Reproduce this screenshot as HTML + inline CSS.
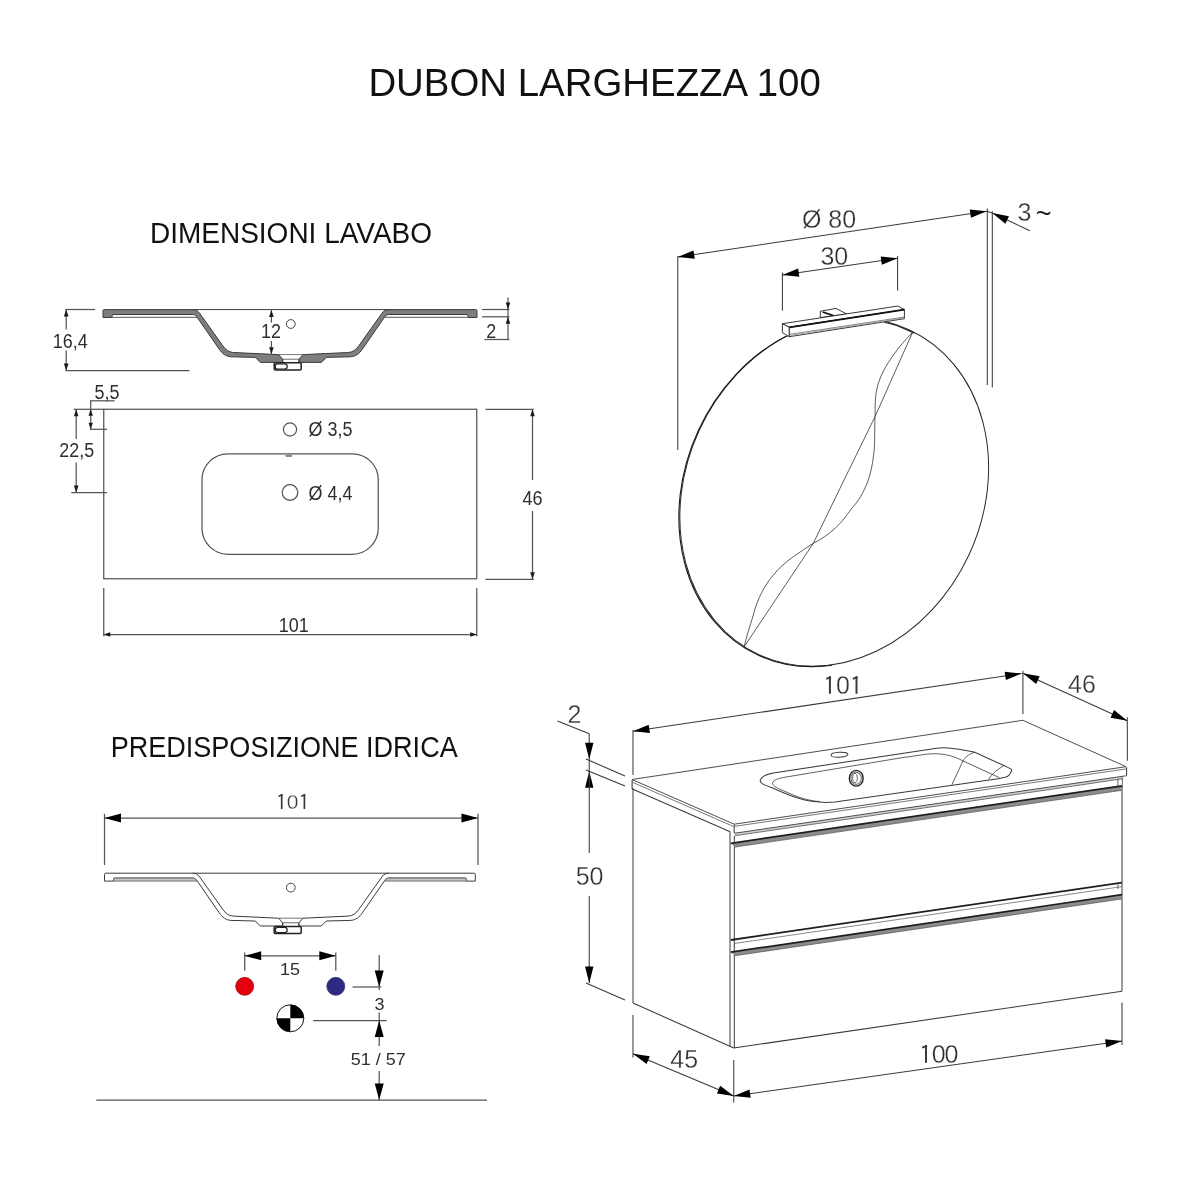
<!DOCTYPE html>
<html><head><meta charset="utf-8"><title>DUBON LARGHEZZA 100</title>
<style>
html,body{margin:0;padding:0;background:#fff;}
body{width:1200px;height:1200px;overflow:hidden;font-family:"Liberation Sans",sans-serif;}
svg{display:block;}
svg text{font-family:"Liberation Sans",sans-serif;}
svg text{filter:grayscale(1);}
</style></head><body>
<svg width="1200" height="1200" viewBox="0 0 1200 1200">
<rect x="0" y="0" width="1200" height="1200" fill="#ffffff"/>
<text x="594.60" y="96.00" font-size="39.5" text-anchor="middle" fill="#111" textLength="452.4" lengthAdjust="spacingAndGlyphs">DUBON LARGHEZZA 100</text>
<text x="291.00" y="243.00" font-size="29.3" text-anchor="middle" fill="#111" textLength="282" lengthAdjust="spacingAndGlyphs">DIMENSIONI LAVABO</text>
<text x="284.20" y="757.00" font-size="29.3" text-anchor="middle" fill="#111" textLength="347" lengthAdjust="spacingAndGlyphs">PREDISPOSIZIONE IDRICA</text>
<path d="M 104.20,309.60 L 192.80,309.60 C 195.80,309.60 197.80,310.60 199.60,313.20 L 222.80,345.80 C 225.80,350.00 228.80,352.20 233.30,352.50 L 271.80,354.30 L 278.80,354.70 L 282.60,359.20 L 282.60,362.40 L 260.30,362.40 L 255.30,357.40 L 230.80,356.80 C 225.80,356.40 222.30,353.60 219.30,349.30 L 197.80,318.20 C 196.50,316.30 195.30,314.50 192.80,314.50 L 112.60,314.50 L 111.60,317.50 L 103.00,317.50 L 103.00,310.80 C 103.00,310.10 103.50,309.60 104.20,309.60 Z" stroke="#3c3c3c" stroke-width="1.0" fill="#7e7e7e" stroke-linejoin="round"/>
<path d="M 475.80,309.60 L 388.80,309.60 C 385.80,309.60 383.80,310.60 382.00,313.20 L 358.80,345.80 C 355.80,350.00 352.80,352.20 348.30,352.50 L 309.80,354.30 L 302.80,354.70 L 299.00,359.20 L 299.00,362.40 L 321.30,362.40 L 326.30,357.40 L 350.80,356.80 C 355.80,356.40 359.30,353.60 362.30,349.30 L 383.80,318.20 C 385.10,316.30 386.30,314.50 388.80,314.50 L 467.40,314.50 L 468.40,317.50 L 477.00,317.50 L 477.00,310.80 C 477.00,310.10 476.50,309.60 475.80,309.60 Z" stroke="#3c3c3c" stroke-width="1.0" fill="#7e7e7e" stroke-linejoin="round"/>
<line x1="192.80" y1="309.60" x2="388.80" y2="309.60" stroke="#3c3c3c" stroke-width="1.0" />
<line x1="111.60" y1="317.30" x2="197.20" y2="317.30" stroke="#444" stroke-width="0.9" />
<line x1="468.40" y1="317.30" x2="384.40" y2="317.30" stroke="#444" stroke-width="0.9" />
<line x1="282.60" y1="359.20" x2="299.00" y2="359.20" stroke="#444" stroke-width="0.8" />
<line x1="278.80" y1="354.60" x2="302.80" y2="354.60" stroke="#555" stroke-width="0.8" />
<rect x="274.20" y="362.80" width="27" height="7.2" rx="1.2" fill="#fff" stroke="#222" stroke-width="1.5"/>
<rect x="275.20" y="363.80" width="12" height="5.2" rx="2.6" fill="#fff" stroke="#222" stroke-width="1.2"/>
<line x1="282.80" y1="359.20" x2="282.80" y2="362.40" stroke="#444" stroke-width="0.8" />
<line x1="298.80" y1="359.20" x2="298.80" y2="362.40" stroke="#444" stroke-width="0.8" />
<circle cx="290.80" cy="324.00" r="4.4" fill="#fff" stroke="#444" stroke-width="1.0"/>
<line x1="66.20" y1="309.50" x2="66.20" y2="329.50" stroke="#555" stroke-width="1.25" />
<line x1="66.20" y1="350.50" x2="66.20" y2="370.50" stroke="#555" stroke-width="1.25" />
<line x1="65.50" y1="309.50" x2="95.00" y2="309.50" stroke="#555" stroke-width="1.25" />
<line x1="65.50" y1="370.50" x2="189.50" y2="370.50" stroke="#555" stroke-width="1.25" />
<polygon points="66.20,309.50 68.50,316.50 63.90,316.50" fill="#1a1a1a"/>
<polygon points="66.20,370.50 63.90,363.50 68.50,363.50" fill="#1a1a1a"/>
<text transform="translate(70.30,347.60) scale(0.93,1)" font-size="19.3" text-anchor="middle" fill="#2e2e2e">16,4</text>
<line x1="271.40" y1="309.70" x2="271.40" y2="322.50" stroke="#555" stroke-width="1.25" />
<line x1="271.40" y1="341.00" x2="271.40" y2="354.20" stroke="#555" stroke-width="1.25" />
<polygon points="271.40,310.00 273.70,317.00 269.10,317.00" fill="#1a1a1a"/>
<polygon points="271.40,354.20 269.10,347.20 273.70,347.20" fill="#1a1a1a"/>
<text transform="translate(271.00,338.20) scale(0.93,1)" font-size="19.3" text-anchor="middle" fill="#2e2e2e">12</text>
<line x1="508.00" y1="297.50" x2="508.00" y2="339.50" stroke="#555" stroke-width="1.25" />
<line x1="482.00" y1="309.50" x2="509.50" y2="309.50" stroke="#555" stroke-width="1.25" />
<line x1="482.00" y1="316.80" x2="509.50" y2="316.80" stroke="#555" stroke-width="1.25" />
<polygon points="508.00,309.50 505.70,302.50 510.30,302.50" fill="#1a1a1a"/>
<polygon points="508.00,316.80 510.30,323.80 505.70,323.80" fill="#1a1a1a"/>
<line x1="484.50" y1="339.50" x2="509.50" y2="339.50" stroke="#555" stroke-width="1.25" />
<text transform="translate(491.30,337.50) scale(0.93,1)" font-size="19.3" text-anchor="middle" fill="#2e2e2e">2</text>
<rect x="103.75" y="409.25" width="373" height="169.5" fill="none" stroke="#555" stroke-width="1.25"/>
<rect x="202" y="453.75" width="176.25" height="100.5" rx="26" ry="26" fill="none" stroke="#555" stroke-width="1.25"/>
<circle cx="290" cy="429.5" r="6.6" fill="none" stroke="#555" stroke-width="1.25"/>
<circle cx="290" cy="492.5" r="7.8" fill="none" stroke="#555" stroke-width="1.25"/>
<ellipse cx="288.8" cy="455.8" rx="3.6" ry="1.3" fill="#888"/>
<text transform="translate(308.50,436.30) scale(0.93,1)" font-size="19.3" text-anchor="start" fill="#2e2e2e">Ø 3,5</text>
<text transform="translate(308.50,500.00) scale(0.93,1)" font-size="19.3" text-anchor="start" fill="#2e2e2e">Ø 4,4</text>
<text transform="translate(107.00,398.80) scale(0.93,1)" font-size="19.3" text-anchor="middle" fill="#2e2e2e">5,5</text>
<line x1="90.00" y1="400.80" x2="114.50" y2="400.80" stroke="#555" stroke-width="1.25" />
<line x1="90.70" y1="400.80" x2="90.70" y2="429.30" stroke="#555" stroke-width="1.25" />
<polygon points="90.70,409.30 92.90,415.80 88.50,415.80" fill="#1a1a1a"/>
<polygon points="90.70,429.30 88.50,422.80 92.90,422.80" fill="#1a1a1a"/>
<line x1="90.00" y1="429.30" x2="107.00" y2="429.30" stroke="#555" stroke-width="1.25" />
<line x1="73.70" y1="409.30" x2="103.70" y2="409.30" stroke="#555" stroke-width="1.25" />
<line x1="76.20" y1="409.30" x2="76.20" y2="439.00" stroke="#555" stroke-width="1.25" />
<line x1="76.20" y1="462.50" x2="76.20" y2="492.50" stroke="#555" stroke-width="1.25" />
<polygon points="76.20,409.30 78.50,416.30 73.90,416.30" fill="#1a1a1a"/>
<polygon points="76.20,492.50 73.90,485.50 78.50,485.50" fill="#1a1a1a"/>
<line x1="71.20" y1="492.50" x2="107.00" y2="492.50" stroke="#555" stroke-width="1.25" />
<text transform="translate(76.80,457.00) scale(0.93,1)" font-size="19.3" text-anchor="middle" fill="#2e2e2e">22,5</text>
<line x1="103.75" y1="588.00" x2="103.75" y2="636.30" stroke="#555" stroke-width="1.25" />
<line x1="476.75" y1="588.00" x2="476.75" y2="636.30" stroke="#555" stroke-width="1.25" />
<line x1="103.75" y1="634.50" x2="476.75" y2="634.50" stroke="#555" stroke-width="1.25" />
<polygon points="103.75,634.50 110.25,632.30 110.25,636.70" fill="#1a1a1a"/>
<polygon points="476.75,634.50 470.25,636.70 470.25,632.30" fill="#1a1a1a"/>
<text transform="translate(293.70,631.80) scale(0.93,1)" font-size="19.3" text-anchor="middle" fill="#2e2e2e">101</text>
<line x1="485.50" y1="409.30" x2="533.80" y2="409.30" stroke="#555" stroke-width="1.25" />
<line x1="485.50" y1="579.30" x2="533.80" y2="579.30" stroke="#555" stroke-width="1.25" />
<line x1="532.50" y1="409.30" x2="532.50" y2="480.00" stroke="#555" stroke-width="1.25" />
<line x1="532.50" y1="511.00" x2="532.50" y2="579.30" stroke="#555" stroke-width="1.25" />
<polygon points="532.50,409.30 534.80,416.30 530.20,416.30" fill="#1a1a1a"/>
<polygon points="532.50,579.30 530.20,572.30 534.80,572.30" fill="#1a1a1a"/>
<text transform="translate(532.50,505.00) scale(0.93,1)" font-size="19.3" text-anchor="middle" fill="#2e2e2e">46</text>
<path d="M 105.70,873.20 L 192.80,873.20 C 195.80,873.20 197.80,874.20 199.60,876.80 L 222.80,909.40 C 225.80,913.60 228.80,915.80 233.30,916.10 L 271.80,917.90 L 278.80,918.30 L 282.60,922.80 L 282.60,926.00 L 260.30,926.00 L 255.30,921.00 L 230.80,920.40 C 225.80,920.00 222.30,917.20 219.30,912.90 L 197.80,881.80 C 196.50,879.90 195.30,878.10 192.80,878.10 L 114.10,878.10 L 113.10,881.10 L 104.50,881.10 L 104.50,874.40 C 104.50,873.70 105.00,873.20 105.70,873.20 Z" stroke="#3a3a3a" stroke-width="1.0" fill="#fff" stroke-linejoin="round"/>
<path d="M 474.10,873.20 L 388.80,873.20 C 385.80,873.20 383.80,874.20 382.00,876.80 L 358.80,909.40 C 355.80,913.60 352.80,915.80 348.30,916.10 L 309.80,917.90 L 302.80,918.30 L 299.00,922.80 L 299.00,926.00 L 321.30,926.00 L 326.30,921.00 L 350.80,920.40 C 355.80,920.00 359.30,917.20 362.30,912.90 L 383.80,881.80 C 385.10,879.90 386.30,878.10 388.80,878.10 L 465.70,878.10 L 466.70,881.10 L 475.30,881.10 L 475.30,874.40 C 475.30,873.70 474.80,873.20 474.10,873.20 Z" stroke="#3a3a3a" stroke-width="1.0" fill="#fff" stroke-linejoin="round"/>
<line x1="192.80" y1="873.20" x2="388.80" y2="873.20" stroke="#3a3a3a" stroke-width="1.0" />
<path d="M 114.10,878.10 L 113.10,881.10 L 197.20,881.10 L 194.30,878.10 Z" stroke="#555" stroke-width="0.8" fill="#c4c4c4" />
<path d="M 465.70,878.10 L 466.70,881.10 L 384.40,881.10 L 387.30,878.10 Z" stroke="#555" stroke-width="0.8" fill="#c4c4c4" />
<line x1="282.60" y1="922.80" x2="299.00" y2="922.80" stroke="#444" stroke-width="0.8" />
<line x1="278.80" y1="918.20" x2="302.80" y2="918.20" stroke="#555" stroke-width="0.8" />
<rect x="274.20" y="926.40" width="27" height="7.2" rx="1.2" fill="#fff" stroke="#222" stroke-width="1.5"/>
<rect x="275.20" y="927.40" width="12" height="5.2" rx="2.6" fill="#fff" stroke="#222" stroke-width="1.2"/>
<line x1="282.80" y1="922.80" x2="282.80" y2="926.00" stroke="#444" stroke-width="0.8" />
<line x1="298.80" y1="922.80" x2="298.80" y2="926.00" stroke="#444" stroke-width="0.8" />
<circle cx="290.80" cy="887.60" r="4.4" fill="#fff" stroke="#444" stroke-width="1.0"/>
<line x1="104.50" y1="813.80" x2="104.50" y2="865.00" stroke="#555" stroke-width="1.25" />
<line x1="478.00" y1="813.80" x2="478.00" y2="865.00" stroke="#555" stroke-width="1.25" />
<line x1="104.50" y1="818.00" x2="478.00" y2="818.00" stroke="#555" stroke-width="1.25" />
<polygon points="104.50,818.00 121.00,813.50 121.00,822.50" fill="#000"/>
<polygon points="478.00,818.00 461.50,822.50 461.50,813.50" fill="#000"/>
<path d="M 278.49,796.27 L 282.55,794.71" stroke="#3a3a3a" stroke-width="1.61" fill="none"/>
<path d="M 281.70,794.00 L 281.70,809.00" stroke="#3a3a3a" stroke-width="1.7" fill="none"/>
<text x="292.50" y="809.00" font-size="21" text-anchor="middle" fill="#3a3a3a" stroke="#fff" stroke-width="0.3">0</text>
<path d="M 301.19,796.27 L 305.25,794.71" stroke="#3a3a3a" stroke-width="1.61" fill="none"/>
<path d="M 304.40,794.00 L 304.40,809.00" stroke="#3a3a3a" stroke-width="1.7" fill="none"/>
<line x1="244.70" y1="952.50" x2="244.70" y2="970.80" stroke="#555" stroke-width="1.25" />
<line x1="335.80" y1="952.50" x2="335.80" y2="970.80" stroke="#555" stroke-width="1.25" />
<line x1="244.70" y1="955.80" x2="335.80" y2="955.80" stroke="#555" stroke-width="1.25" />
<polygon points="244.70,955.80 261.20,951.30 261.20,960.30" fill="#000"/>
<polygon points="335.80,955.80 319.30,960.30 319.30,951.30" fill="#000"/>
<text transform="translate(290.00,975.30) scale(1.04,1)" font-size="17.3" text-anchor="middle" fill="#2e2e2e">15</text>
<circle cx="244.7" cy="986.3" r="9.0" fill="#e3000f" stroke="#9a1515" stroke-width="0.8"/>
<circle cx="335.8" cy="986.3" r="9.0" fill="#2d2a86" stroke="#3b3b6a" stroke-width="0.8"/>
<circle cx="290.3" cy="1018.3" r="13.5" fill="#fff" stroke="#111" stroke-width="1"/>
<path d="M 290.3,1018.3 L 290.3,1004.8 A 13.5,13.5 0 0 1 303.8,1018.3 Z" fill="#000"/>
<path d="M 290.3,1018.3 L 290.3,1031.8 A 13.5,13.5 0 0 1 276.8,1018.3 Z" fill="#000"/>
<line x1="379.20" y1="955.00" x2="379.20" y2="990.00" stroke="#555" stroke-width="1.25" />
<polygon points="379.20,987.00 374.70,970.50 383.70,970.50" fill="#000"/>
<line x1="352.50" y1="987.00" x2="381.30" y2="987.00" stroke="#555" stroke-width="1.25" />
<text transform="translate(379.60,1010.00) scale(1.04,1)" font-size="17.3" text-anchor="middle" fill="#2e2e2e">3</text>
<line x1="313.30" y1="1020.50" x2="386.70" y2="1020.50" stroke="#555" stroke-width="1.25" />
<line x1="379.20" y1="1012.50" x2="379.20" y2="1046.00" stroke="#555" stroke-width="1.25" />
<polygon points="379.20,1020.50 383.70,1037.00 374.70,1037.00" fill="#000"/>
<text transform="translate(378.20,1065.00) scale(1.04,1)" font-size="17.3" text-anchor="middle" fill="#2e2e2e">51 / 57</text>
<line x1="379.20" y1="1071.00" x2="379.20" y2="1100.00" stroke="#555" stroke-width="1.25" />
<polygon points="379.20,1100.00 374.70,1083.50 383.70,1083.50" fill="#000"/>
<line x1="96.30" y1="1100.00" x2="487.00" y2="1100.00" stroke="#555" stroke-width="1.25" />
<line x1="677.80" y1="256.20" x2="677.80" y2="450.00" stroke="#3a3a3a" stroke-width="1.05" />
<line x1="677.80" y1="257.00" x2="986.70" y2="211.30" stroke="#3a3a3a" stroke-width="1.05" />
<polygon points="677.80,257.00 693.51,250.43 694.74,258.74" fill="#000"/>
<polygon points="986.70,211.30 970.99,217.87 969.76,209.56" fill="#000"/>
<text x="829.00" y="228.40" font-size="25" text-anchor="middle" fill="#303030" stroke="#fff" stroke-width="0.3">Ø 80</text>
<line x1="782.40" y1="272.50" x2="782.40" y2="310.70" stroke="#3a3a3a" stroke-width="1.05" />
<line x1="897.60" y1="256.00" x2="897.60" y2="290.40" stroke="#3a3a3a" stroke-width="1.05" />
<line x1="782.40" y1="274.90" x2="897.60" y2="258.30" stroke="#3a3a3a" stroke-width="1.05" />
<polygon points="782.40,274.90 798.13,268.39 799.33,276.70" fill="#000"/>
<polygon points="897.60,258.30 881.87,264.81 880.67,256.50" fill="#000"/>
<text x="834.30" y="264.70" font-size="25" text-anchor="middle" fill="#303030" stroke="#fff" stroke-width="0.3">30</text>
<line x1="987.30" y1="208.60" x2="987.30" y2="385.00" stroke="#3a3a3a" stroke-width="1.05" />
<line x1="992.30" y1="211.30" x2="992.30" y2="387.50" stroke="#3a3a3a" stroke-width="1.05" />
<line x1="992.30" y1="212.90" x2="1029.80" y2="230.80" stroke="#3a3a3a" stroke-width="1.05" />
<polygon points="992.30,212.90 1009.00,216.22 1005.38,223.80" fill="#000"/>
<text x="1024.40" y="221.00" font-size="25" text-anchor="middle" fill="#303030" stroke="#fff" stroke-width="0.3">3</text>
<text x="1043.60" y="222.60" font-size="27" text-anchor="middle" fill="#222" >~</text>
<line x1="986.70" y1="211.30" x2="992.30" y2="212.90" stroke="#3a3a3a" stroke-width="1.05" />
<defs><clipPath id="leftclip"><rect x="600" y="300" width="232" height="400"/><rect x="884" y="316" width="30" height="19"/></clipPath></defs>
<g transform="rotate(-65.12 834.24 492.29)">
<ellipse cx="834.24" cy="492.29" rx="178.94" ry="148.57" fill="none" stroke="#2a2a2a" stroke-width="1.0"/>
</g>
<g clip-path="url(#leftclip)"><g transform="translate(-1.0,0.42) rotate(-65.12 834.24 492.29)">
<ellipse cx="834.24" cy="492.29" rx="178.94" ry="148.57" fill="none" stroke="#1a1a1a" stroke-width="1.1"/>
</g></g>
<path d="M 912.5,332.5 L 875,416.7 L 840,488.3 L 813.3,543.3 L 744.2,646.7" stroke="#333" stroke-width="0.8" fill="none" />
<path d="M 912.5,332.5 C 900,345 884,365 878.3,383.3 C 874,398 875.5,410 875,416.7 C 874.5,430 875,440 874.2,450 C 873,462 871,472 868.3,480 C 864,492 858,502 851.7,508.3 C 845,518 840,524 835,528.3 C 828,535 820,540 813.3,543.3 C 806,548 800,552 793.3,556.7 C 786,562 779,568 773.3,575 C 764,586 757,600 753.3,615 C 750,626 746,638 744.2,646.7" stroke="#333" stroke-width="0.8" fill="none" />
<polygon points="782.40,323.70 898.00,306.00 904.40,309.60 904.40,318.70 789.30,336.70 782.40,332.70" fill="#fff" stroke="none"/>
<polygon points="820.30,317.60 820.30,311.30 836.00,308.40 846.70,314.00" fill="#fff" stroke="#222" stroke-width="0.9" stroke-linejoin="round"/>
<line x1="822.70" y1="312.00" x2="833.30" y2="315.70" stroke="#111" stroke-width="1.8" />
<polygon points="782.40,323.70 898.00,306.00 904.40,309.60 789.30,327.30" fill="#fff" stroke="#222" stroke-width="0.9" stroke-linejoin="round"/>
<polygon points="782.40,323.70 789.30,327.30 789.30,336.70 782.40,332.70" fill="#fff" stroke="#222" stroke-width="0.9" stroke-linejoin="round"/>
<polygon points="789.30,327.30 904.40,309.60 904.40,318.70 789.30,336.70" fill="#fff" stroke="#222" stroke-width="0.9" stroke-linejoin="round"/>
<line x1="789.30" y1="327.30" x2="904.40" y2="309.60" stroke="#111" stroke-width="1.7" />
<line x1="789.30" y1="334.40" x2="904.40" y2="317.00" stroke="#555" stroke-width="0.7" />
<line x1="789.30" y1="335.50" x2="904.40" y2="317.90" stroke="#777" stroke-width="0.6" />
<polygon points="632.00,779.50 1022.90,720.30 1126.00,766.70 734.20,824.20" fill="#fff" stroke="#3a3a3a" stroke-width="0.9" stroke-linejoin="round"/>
<polygon points="735.00,833.18 1122.50,776.31 1122.50,778.81 735.00,835.68" fill="#d0d0d0" stroke="none"/>
<line x1="735.00" y1="826.28" x2="1126.30" y2="768.86" stroke="#555" stroke-width="0.8" />
<line x1="734.20" y1="833.30" x2="1126.70" y2="775.70" stroke="#3a3a3a" stroke-width="0.9" />
<line x1="735.00" y1="835.68" x2="1122.50" y2="778.81" stroke="#555" stroke-width="0.8" />
<line x1="734.20" y1="824.60" x2="734.20" y2="833.00" stroke="#3a3a3a" stroke-width="1.05" />
<line x1="1126.60" y1="767.20" x2="1126.60" y2="775.60" stroke="#3a3a3a" stroke-width="1.05" />
<line x1="1117.90" y1="779.20" x2="1117.90" y2="785.80" stroke="#3a3a3a" stroke-width="0.8" />
<line x1="1122.30" y1="777.50" x2="1122.30" y2="788.00" stroke="#3a3a3a" stroke-width="0.8" />
<line x1="632.30" y1="782.23" x2="733.50" y2="826.49" stroke="#555" stroke-width="0.8" />
<line x1="632.30" y1="789.03" x2="730.20" y2="831.85" stroke="#3a3a3a" stroke-width="1.05" />
<line x1="632.10" y1="780.00" x2="632.10" y2="789.00" stroke="#3a3a3a" stroke-width="1.05" />
<line x1="633.00" y1="788.00" x2="633.00" y2="1003.00" stroke="#3a3a3a" stroke-width="1.0" />
<line x1="633.00" y1="1003.00" x2="733.75" y2="1048.00" stroke="#3a3a3a" stroke-width="1.05" />
<line x1="730.00" y1="831.70" x2="730.00" y2="1046.40" stroke="#3a3a3a" stroke-width="1.0" />
<line x1="734.30" y1="835.80" x2="734.30" y2="1048.00" stroke="#3a3a3a" stroke-width="1.0" />
<line x1="733.75" y1="1048.00" x2="1122.00" y2="991.25" stroke="#3a3a3a" stroke-width="1.05" />
<line x1="1122.00" y1="787.50" x2="1122.00" y2="991.25" stroke="#3a3a3a" stroke-width="1.0" />
<polygon points="730.80,843.30 1122.00,785.89 1122.00,790.29 735.00,847.08" fill="#8c8c8c" stroke="none"/>
<line x1="730.80" y1="843.30" x2="1122.00" y2="785.89" stroke="#1e1e1e" stroke-width="1.7" />
<line x1="735.00" y1="847.08" x2="1122.00" y2="790.29" stroke="#555" stroke-width="0.7" />
<line x1="730.80" y1="940.00" x2="1122.00" y2="882.59" stroke="#1e1e1e" stroke-width="1.8" />
<line x1="735.00" y1="943.38" x2="1122.00" y2="886.59" stroke="#555" stroke-width="0.7" />
<polygon points="730.80,952.10 1122.00,894.69 1122.00,898.89 735.00,955.68" fill="#8c8c8c" stroke="none"/>
<line x1="730.80" y1="952.10" x2="1122.00" y2="894.69" stroke="#1e1e1e" stroke-width="1.7" />
<line x1="735.00" y1="955.68" x2="1122.00" y2="898.89" stroke="#555" stroke-width="0.7" />
<line x1="1117.90" y1="882.50" x2="1117.90" y2="889.00" stroke="#3a3a3a" stroke-width="0.8" />
<path d="M 998,778.8 L 835,802 C 812,804.2 795,798.3 773.3,788.3 C 766,785.5 759,783.5 760.3,780 C 762,776 768,774 773.3,773 L 935,748.4 C 942,747.4 946,747.6 952.5,748.4 C 962,749.4 968,750.4 974.7,752.2 L 1003.9,765.6 C 1009,768 1012.5,769 1011.4,770.8 C 1010.5,774.2 1008,776.5 1005,777.3 Z" stroke="#3a3a3a" stroke-width="1.05" fill="none" />
<path d="M 820,801.6 C 806,800.5 795,796 787,792.3 C 778,788.4 772.5,786 772.5,783.3 C 773,780 779,778.2 783.3,777.5 L 900,758 L 925.7,754.3 C 940,752.5 952,755 963,760.9 L 999.2,777.6" stroke="#3a3a3a" stroke-width="0.8" fill="none" />
<path d="M 974.7,752.2 C 968,754.5 965,757.5 963,760.9 L 951.9,784.8" stroke="#3a3a3a" stroke-width="0.8" fill="none" />
<path d="M 1003.9,765.6 C 997,769.5 992,774 988.7,779" stroke="#3a3a3a" stroke-width="0.8" fill="none" />
<ellipse cx="839.5" cy="754.75" rx="8.4" ry="2.4" transform="rotate(-3 839.5 754.75)" fill="#fff" stroke="#3a3a3a" stroke-width="1.0"/>
<ellipse cx="856.25" cy="778.25" rx="6.9" ry="7.9" fill="#fff" stroke="#222" stroke-width="1.4"/>
<ellipse cx="856.1" cy="778.25" rx="5.2" ry="6.2" fill="#fff" stroke="#777" stroke-width="1.2"/>
<ellipse cx="855.0" cy="778.1" rx="2.3" ry="4.7" fill="#fff" stroke="#555" stroke-width="0.9"/>
<line x1="633.00" y1="730.00" x2="633.00" y2="775.00" stroke="#3a3a3a" stroke-width="1.05" />
<line x1="1022.90" y1="670.70" x2="1022.90" y2="714.00" stroke="#3a3a3a" stroke-width="1.05" />
<line x1="633.00" y1="731.30" x2="1021.60" y2="673.50" stroke="#3a3a3a" stroke-width="1.05" />
<polygon points="633.00,731.30 648.70,724.72 649.94,733.03" fill="#000"/>
<polygon points="1021.60,673.50 1005.90,680.08 1004.66,671.77" fill="#000"/>
<path d="M 826.15,678.90 L 830.90,677.09" stroke="#3a3a3a" stroke-width="1.90" fill="none"/>
<path d="M 829.90,676.25 L 829.90,693.75" stroke="#3a3a3a" stroke-width="2.0" fill="none"/>
<text x="842.90" y="693.75" font-size="25" text-anchor="middle" fill="#303030" stroke="#fff" stroke-width="0.3">0</text>
<path d="M 852.75,678.90 L 857.50,677.09" stroke="#3a3a3a" stroke-width="1.90" fill="none"/>
<path d="M 856.50,676.25 L 856.50,693.75" stroke="#3a3a3a" stroke-width="2.0" fill="none"/>
<line x1="1127.30" y1="717.30" x2="1127.30" y2="760.70" stroke="#3a3a3a" stroke-width="1.05" />
<line x1="1022.90" y1="673.30" x2="1127.30" y2="720.70" stroke="#3a3a3a" stroke-width="1.05" />
<polygon points="1022.90,673.30 1039.66,676.30 1036.19,683.95" fill="#000"/>
<polygon points="1127.30,720.70 1110.54,717.70 1114.01,710.05" fill="#000"/>
<text x="1082.00" y="692.70" font-size="25" text-anchor="middle" fill="#303030" stroke="#fff" stroke-width="0.3">46</text>
<line x1="557.50" y1="721.00" x2="589.25" y2="733.75" stroke="#3a3a3a" stroke-width="1.05" />
<text x="574.40" y="722.90" font-size="25" text-anchor="middle" fill="#303030" stroke="#fff" stroke-width="0.3">2</text>
<line x1="589.25" y1="733.75" x2="589.25" y2="772.00" stroke="#3a3a3a" stroke-width="1.05" />
<polygon points="589.25,759.30 585.05,742.80 593.45,742.80" fill="#000"/>
<line x1="586.00" y1="759.00" x2="625.00" y2="776.00" stroke="#3a3a3a" stroke-width="1.05" />
<line x1="586.00" y1="770.00" x2="625.00" y2="786.00" stroke="#3a3a3a" stroke-width="1.05" />
<polygon points="589.25,771.30 593.45,787.80 585.05,787.80" fill="#000"/>
<line x1="589.25" y1="771.30" x2="589.25" y2="853.00" stroke="#3a3a3a" stroke-width="1.05" />
<text x="589.60" y="884.75" font-size="25" text-anchor="middle" fill="#303030" stroke="#fff" stroke-width="0.3">50</text>
<line x1="589.25" y1="896.00" x2="589.25" y2="983.00" stroke="#3a3a3a" stroke-width="1.05" />
<polygon points="589.25,983.00 585.05,966.50 593.45,966.50" fill="#000"/>
<line x1="586.00" y1="983.00" x2="625.00" y2="1000.00" stroke="#3a3a3a" stroke-width="1.05" />
<line x1="633.00" y1="1015.00" x2="633.00" y2="1057.50" stroke="#3a3a3a" stroke-width="1.05" />
<line x1="733.75" y1="1060.00" x2="733.75" y2="1102.50" stroke="#3a3a3a" stroke-width="1.05" />
<line x1="633.00" y1="1053.75" x2="733.75" y2="1096.00" stroke="#3a3a3a" stroke-width="1.05" />
<polygon points="633.00,1053.75 649.84,1056.26 646.59,1064.00" fill="#000"/>
<polygon points="733.75,1096.00 716.91,1093.49 720.16,1085.75" fill="#000"/>
<text x="684.25" y="1067.75" font-size="25" text-anchor="middle" fill="#303030" stroke="#fff" stroke-width="0.3">45</text>
<line x1="1122.00" y1="1002.50" x2="1122.00" y2="1045.00" stroke="#3a3a3a" stroke-width="1.05" />
<line x1="733.75" y1="1096.00" x2="1122.00" y2="1041.00" stroke="#3a3a3a" stroke-width="1.05" />
<polygon points="733.75,1096.00 749.50,1089.53 750.68,1097.84" fill="#000"/>
<polygon points="1122.00,1041.00 1106.25,1047.47 1105.07,1039.16" fill="#000"/>
<path d="M 922.20,1047.64 L 927.00,1045.79" stroke="#3a3a3a" stroke-width="1.90" fill="none"/>
<path d="M 926.00,1044.95 L 926.00,1062.75" stroke="#3a3a3a" stroke-width="2.0" fill="none"/>
<text x="938.60" y="1062.75" font-size="25" text-anchor="middle" fill="#303030" stroke="#fff" stroke-width="0.3">0</text>
<text x="951.50" y="1062.75" font-size="25" text-anchor="middle" fill="#303030" stroke="#fff" stroke-width="0.3">0</text>
</svg>
</body></html>
